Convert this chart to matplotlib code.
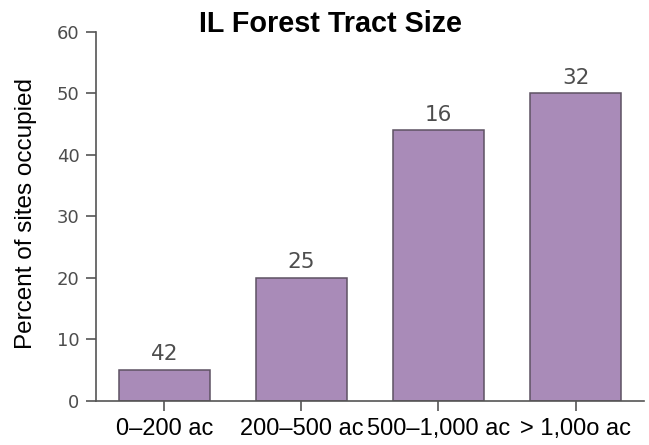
import matplotlib
matplotlib.use('Agg')
import matplotlib.pyplot as plt

plt.rcParams['font.family'] = ['Liberation Sans', 'DejaVu Sans']

# data
categories = ['0\u2013200 ac', '200\u2013500 ac', '500\u20131,000 ac', '> 1,00o ac']
percent_occupied = [5, 20, 44, 50]
site_counts = ['42', '25', '16', '32']
yticks = [0, 10, 20, 30, 40, 50, 60]

bar_color = '#a98bb8'
edge_color = '#5e5263'
axis_color = '#555555'

fig = plt.figure(figsize=(6.49, 4.45), dpi=100)
ax = fig.add_axes([0.1479, 0.100, 0.8444, 0.828])

x = range(len(categories))
bars = ax.bar(x, percent_occupied, width=0.665, color=bar_color,
              edgecolor=edge_color, linewidth=1.1)

for rect, label in zip(bars, site_counts):
    ax.annotate(label, (rect.get_x() + rect.get_width() / 2, rect.get_height()),
                xytext=(0, 7), textcoords='offset points',
                ha='center', va='baseline', fontsize=15.5, color='#4d4d4d',
                family=['DejaVu Sans'])

ax.set_xlim(-0.5, 3.5)
ax.set_ylim(0, 60)
ax.set_yticks(yticks)
ax.set_xticks(list(x))
ax.set_xticklabels(categories)

for side in ['top', 'right']:
    ax.spines[side].set_visible(False)
for side in ['left', 'bottom']:
    ax.spines[side].set_color(axis_color)
    ax.spines[side].set_linewidth(1.2)

ax.tick_params(axis='y', direction='out', length=7.5, width=1.2, color=axis_color,
               labelsize=13, labelcolor='#4d4d4d', pad=4.3)
for lbl in ax.get_yticklabels():
    lbl.set_family(['DejaVu Sans'])
ax.tick_params(axis='x', direction='out', length=7.5, width=1.2, color=axis_color,
               labelsize=17, labelcolor='black', pad=5.4)

ax.set_ylabel('Percent of sites occupied', fontsize=17.5)
ax.yaxis.set_label_coords(-0.107, 0.507)

fig.text(0.510, 1 - 32 / 445, 'IL Forest Tract Size', ha='center', va='baseline',
         fontsize=20.7, fontweight='bold')

fig.savefig('out.png', dpi=100)
